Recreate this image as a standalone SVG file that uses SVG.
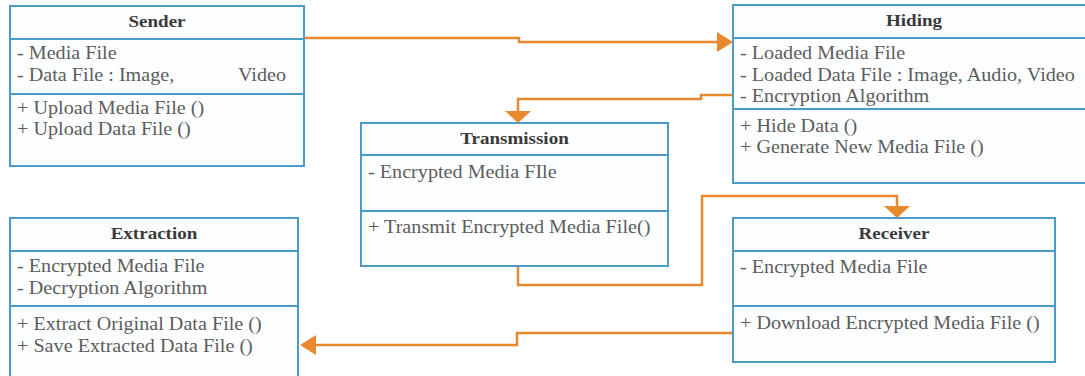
<svg xmlns="http://www.w3.org/2000/svg" width="1085" height="376" viewBox="0 0 1085 376">
  <style>
    .box { fill: #fdfeff; stroke: #4a9bc8; stroke-width: 2; }
    .div { stroke: #4a9bc8; stroke-width: 2; }
    .t { font-family: "Liberation Serif", "Times New Roman", serif; font-size: 18px; fill: #5c5c5c; transform-box: fill-box; transform-origin: 0 50%; transform: scaleX(1.12); }
    .h { font-family: "Liberation Serif", "Times New Roman", serif; font-size: 17px; font-weight: bold; fill: #3a3a3a; text-anchor: middle; transform-box: fill-box; transform-origin: 50% 50%; transform: scaleX(1.12); }
    .link { fill: none; stroke: #e8892e; stroke-width: 2.5; }
  </style>
  <defs>
    <marker id="arrowSide" markerUnits="userSpaceOnUse" markerWidth="16" markerHeight="20" refX="0" refY="10" orient="auto">
      <path d="M0,0 L16,10 L0,20 z" fill="#e8892e"/>
    </marker>
    <marker id="arrowDown" markerUnits="userSpaceOnUse" markerWidth="12" markerHeight="26" refX="0" refY="13" orient="auto">
      <path d="M0,0 L12,13 L0,26 z" fill="#e8892e"/>
    </marker>
  </defs>
  <rect width="1085" height="376" fill="#ffffff"/>

  <!-- connectors -->
  <g id="connectors">
    <path class="link" d="M304,38 H519 V42 H717" marker-end="url(#arrowSide)"/>
    <path class="link" d="M733,95 H701 V99 H518 V111" marker-end="url(#arrowDown)"/>
    <path class="link" d="M518,266 V285 H702 V196 H897 V206" marker-end="url(#arrowDown)"/>
    <path class="link" d="M733,333 H517 V345 H316" marker-end="url(#arrowSide)"/>
  </g>

  <!-- Sender -->
  <g id="sender">
    <rect class="box" x="10" y="6" width="294" height="160"/>
    <line class="div" x1="10" y1="39" x2="304" y2="39"/>
    <line class="div" x1="10" y1="94" x2="304" y2="94"/>
    <text class="h" x="157" y="27">Sender</text>
    <text class="t" x="17" y="59">- Media File</text>
    <text class="t" x="17" y="81">- Data File : Image,</text>
    <text class="t" x="238" y="81">Video</text>
    <text class="t" x="17" y="114">+ Upload Media File ()</text>
    <text class="t" x="17" y="135">+ Upload Data File ()</text>
  </g>

  <!-- Hiding -->
  <g id="hiding">
    <rect class="box" x="733" y="5" width="362" height="178"/>
    <line class="div" x1="733" y1="38" x2="1095" y2="38"/>
    <line class="div" x1="733" y1="109" x2="1095" y2="109"/>
    <text class="h" x="914" y="26">Hiding</text>
    <text class="t" x="740" y="59">- Loaded Media File</text>
    <text class="t" x="740" y="81">- Loaded Data File : Image, Audio, Video</text>
    <text class="t" x="740" y="102">- Encryption Algorithm</text>
    <text class="t" x="740" y="132">+ Hide Data ()</text>
    <text class="t" x="740" y="153">+ Generate New Media File ()</text>
  </g>

  <!-- Transmission -->
  <g id="transmission">
    <rect class="box" x="361" y="123" width="307" height="143"/>
    <line class="div" x1="361" y1="155" x2="668" y2="155"/>
    <line class="div" x1="361" y1="211" x2="668" y2="211"/>
    <text class="h" x="514.5" y="144">Transmission</text>
    <text class="t" x="368" y="178">- Encrypted Media FIle</text>
    <text class="t" x="368" y="233">+ Transmit Encrypted Media File()</text>
  </g>

  <!-- Receiver -->
  <g id="receiver">
    <rect class="box" x="733" y="218" width="322" height="144"/>
    <line class="div" x1="733" y1="251" x2="1055" y2="251"/>
    <line class="div" x1="733" y1="306" x2="1055" y2="306"/>
    <text class="h" x="894" y="239">Receiver</text>
    <text class="t" x="740" y="273">- Encrypted Media File</text>
    <text class="t" x="740" y="329">+ Download Encrypted Media File ()</text>
  </g>

  <!-- Extraction -->
  <g id="extraction">
    <rect class="box" x="10" y="218" width="288" height="162"/>
    <line class="div" x1="10" y1="251" x2="298" y2="251"/>
    <line class="div" x1="10" y1="306" x2="298" y2="306"/>
    <text class="h" x="154" y="239">Extraction</text>
    <text class="t" x="17" y="272">- Encrypted Media File</text>
    <text class="t" x="17" y="294">- Decryption Algorithm</text>
    <text class="t" x="17" y="330">+ Extract Original Data File ()</text>
    <text class="t" x="17" y="352">+ Save Extracted Data File ()</text>
  </g>
</svg>
